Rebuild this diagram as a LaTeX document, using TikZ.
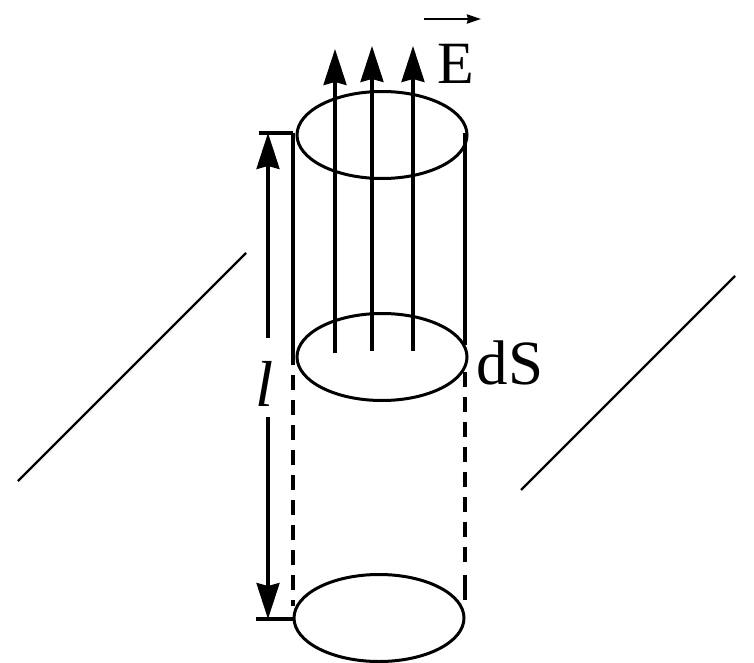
\documentclass[tikz,border=0pt]{standalone}
\usepackage{fontspec}
\setmainfont{Liberation Serif}
\usetikzlibrary{positioning,arrows.meta,shapes.geometric}

\begin{document}
\begin{tikzpicture}[
    x=1pt, y=-1pt,
    disc/.style={ellipse, draw, line width=3pt, minimum width=170pt, minimum height=87pt, inner sep=0pt},
    wall/.style={draw, line width=3.1pt},
    hidden/.style={draw, line width=3.1pt, dash pattern=on 15pt off 10pt},
    fieldline/.style={draw, line width=3.1pt, -{Stealth[length=36pt,width=23pt,inset=3pt]}},
    span/.style={draw, line width=3.1pt, -{Stealth[length=36pt,width=23pt,inset=3pt]}},
    wire/.style={draw, line width=2.4pt},
    label/.style={inner sep=0pt, font=\fontsize{63}{63}\selectfont}
  ]

\useasboundingbox (0,0) rectangle (754,663);

% end faces
\node[disc] (topface) at (382,135) {};
\node[disc] (midface) at (382,357) {};
\node[disc] (lowface) at (379,618) {};

% texts
\node[label, font=\fontsize{60}{60}\selectfont] (field) at (456,64) {E};
\node[label] (area) at (510,363) {dS};
\node[label, font=\fontsize{65}{65}\itshape\selectfont] (length) at (265,384) {l};

% free ends
\coordinate (barstart) at (424,19);
\coordinate (barend) at (481,19);
\coordinate (topl) at (293,133);
\coordinate (topr) at (465,133);
\coordinate (midl) at (293,365);
\coordinate (midr) at (465,345);
\coordinate (midrb) at (465,372);
\coordinate (lowl) at (293,606);
\coordinate (lowr) at (465,564);
\coordinate (lastdash) at (465,575);
\coordinate (lowrend) at (465,600);
\coordinate (ticktopa) at (259,133);
\coordinate (ticklowa) at (256,619);
\coordinate (ticklowb) at (294,619);
\coordinate (spantop) at (268,133);
\coordinate (spanlow) at (268,619);
\coordinate (spanupper) at (268,338);
\coordinate (spanlower) at (268,417);
\coordinate (leftwirea) at (246,253);
\coordinate (leftwireb) at (18,481);
\coordinate (rightwirea) at (735,276);
\coordinate (rightwireb) at (521,490);

% cylinder walls
\path[wall] (topl) -- (midl);
\path[wall] (topr) -- (midr);
\path[hidden] (midl) ++(0,10) -- (lowl);
\path[hidden] (midrb) -- (lowr);
\path[wall] (lastdash) -- (lowrend);

% ticks and length arrows
\path[wall] (ticktopa) -- (topl);
\path[wall] (ticklowa) -- (ticklowb);
\path[span] (spanupper) -- (spantop);
\path[span] (spanlower) -- (spanlow);

% field lines
\foreach \name/\xpos/\ystart/\yend in {a/335/353/49, b/372/351/46, c/413/351/46} {
  \coordinate (line\name s) at (\xpos,\ystart);
  \coordinate (line\name e) at (\xpos,\yend);
  \path[fieldline] (line\name s) -- (line\name e);
}

% vector bar
\path[draw, line width=2.6pt, -{Stealth[length=14pt,width=9pt,inset=1pt]}] (barstart) -- (barend);

% wire
\path[wire] (leftwirea) -- (leftwireb);
\path[wire] (rightwirea) -- (rightwireb);

\end{tikzpicture}
\end{document}
